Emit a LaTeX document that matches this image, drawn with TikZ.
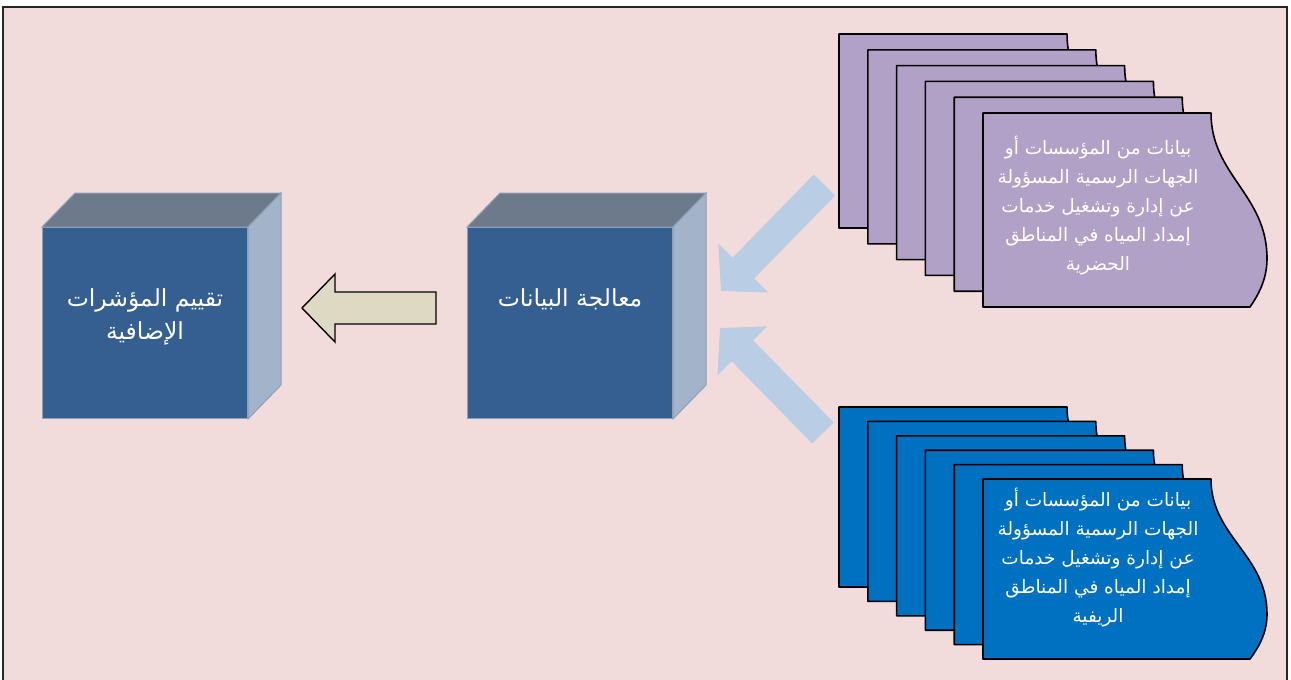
\documentclass[tikz,border=0pt]{standalone}
\usepackage{fontspec}
\newfontfamily\arabicfont[Script=Arabic]{DejaVu Sans}
\TeXXeTstate=1
\usepackage{tikz}
\usetikzlibrary{calc}
\definecolor{slide}{HTML}{F2DCDB}
\definecolor{cubefront}{HTML}{365F91}
\definecolor{cubetop}{HTML}{6C7A8C}
\definecolor{cubeside}{HTML}{A3B4CA}
\definecolor{cuberim}{HTML}{8FA0B5}
\definecolor{flowbeige}{HTML}{DDD9C3}
\definecolor{flowblue}{HTML}{B9CDE5}
\definecolor{urbanfill}{HTML}{B2A1C7}
\definecolor{ruralfill}{HTML}{0070C0}
\tikzset{
  cubeface/.style={draw=cuberim,line width=1pt},
  cubetext/.style={text=white,align=center,inner sep=0pt,font=\arabicfont\fontsize{23.5}{33}\selectfont},
  sheettext/.style={text=white,align=center,inner sep=0pt,font=\arabicfont\fontsize{18.5}{29}\selectfont},
  sheetedge/.style={draw=black,line width=1.6pt,line join=round},
}
\newcommand{\drawcube}[2]{
  \node[cubeface,fill=cubefront,anchor=north west,minimum width=205pt,minimum height=191pt,inner sep=0pt] (#1) at (#2) {};
  \filldraw[cubeface,fill=cubetop] (#1.north west) -- ++(33,-34) -- ($(#1.north east)+(33,-34)$) -- (#1.north east) -- cycle;% top face
  \filldraw[cubeface,fill=cubeside] (#1.north east) -- ++(33,-34) -- ($(#1.south east)+(33,-34)$) -- (#1.south east) -- cycle;% side face
}
\newcommand{\sheet}[4]{
  \filldraw[sheetedge,fill=#1,shift={(#2,#3)}] (0,0) -- (228,0)
    .. controls (228,{0.32*#4}) and (284,{0.42*#4}) .. (284,{0.75*#4})
    .. controls (284,{0.86*#4}) and (275,{0.94*#4}) .. (267,#4)
    -- (0,#4) -- cycle;% one page, wavy right edge
}
\newcommand{\blockarrow}[6]{
  \coordinate (hb) at ($(#3)!#6!(#2)$);% middle of the head base
  \path[#1] (#3) -- ($(hb)!#5!90:(#3)$) -- ($(hb)!#4!90:(#3)$)
    -- ($(#2)!#4!90:(#3)$) -- ($(#2)!#4!-90:(#3)$)
    -- ($(hb)!#4!-90:(#3)$) -- ($(hb)!#5!-90:(#3)$) -- cycle;
}

\begin{document}
\begin{tikzpicture}[x=1pt,y=-1pt]
  \useasboundingbox (0,0) rectangle (1291,680);
  \clip (0,0) rectangle (1291,680);
  \draw[line width=1.8pt,draw=black!85,fill=slide] (3,7) rectangle (1287,700);

  % the two cubes
  \drawcube{evalbox}{42,227}
  \drawcube{procbox}{467,227}
  \node[cubetext] (evaltext) at ($(evalbox.center)+(0,-6)$)
    {\beginR تقييم المؤشرات\endR\\ \beginR الإضافية\endR};
  \node[cubetext] (proctext) at ($(procbox.center)+(0,-24)$)
    {\beginR معالجة البيانات\endR};

  % page stacks
  \foreach \i in {0,...,5}{
    \sheet{urbanfill}{839+\i*28.8}{34+\i*15.8}{194}
  }
  \foreach \i in {0,...,5}{
    \sheet{ruralfill}{839+\i*28.8}{407+\i*14.4}{180}
  }
  \node[sheettext] (urbantext) at (1098,206)
    {\beginR بيانات من المؤسسات أو\endR\\ \beginR الجهات الرسمية المسؤولة\endR\\
     \beginR عن إدارة وتشغيل خدمات\endR\\ \beginR إمداد المياه في المناطق\endR\\
     \beginR الحضرية\endR};
  \node[sheettext] (ruraltext) at (1098,558)
    {\beginR بيانات من المؤسسات أو\endR\\ \beginR الجهات الرسمية المسؤولة\endR\\
     \beginR عن إدارة وتشغيل خدمات\endR\\ \beginR إمداد المياه في المناطق\endR\\
     \beginR الريفية\endR};

  % block arrows
  \coordinate (urbantail) at (824.5,185);
  \coordinate (urbantip) at (721,291);
  \coordinate (ruraltail) at (823,433);
  \coordinate (ruraltip) at (720,328);
  \coordinate (evaltail) at (436,308);
  \coordinate (evaltip) at (302,308);
  \blockarrow{fill=flowblue}{urbantail}{urbantip}{15pt}{35pt}{32pt}
  \blockarrow{fill=flowblue}{ruraltail}{ruraltip}{15pt}{35pt}{32pt}
  \blockarrow{draw=black,line width=1.4pt,fill=flowbeige}{evaltail}{evaltip}{16pt}{34pt}{33pt}
\end{tikzpicture}
\end{document}
